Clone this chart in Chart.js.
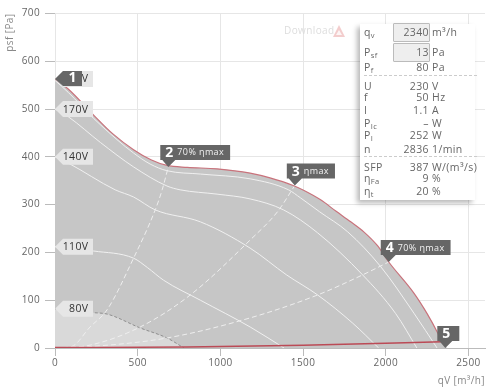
<!DOCTYPE html>
<html><head><meta charset="utf-8">
<script src="https://cdn.jsdelivr.net/npm/chart.js@4"></script>
<style>
html,body{margin:0;padding:0;background:#fff;overflow:hidden}
#wrap{position:relative;width:493px;height:391px;font-family:"Open Sans",sans-serif;font-size:10.5px;color:#666;letter-spacing:.4px}
canvas{position:absolute;left:0;top:0}
#panel{position:absolute;left:360px;top:24px;width:115px;height:176px;background:#fff;box-shadow:-3px 3px 5px rgba(0,0,0,.28)}
.r{position:absolute;left:0;width:115px;height:14px;line-height:14px;white-space:nowrap}
.n{position:absolute;left:4px}
.v{position:absolute;right:46px;text-align:right}
.u{position:absolute;left:72px}
sub{font-size:7.5px;vertical-align:-2px;line-height:0}
.box{position:absolute;left:33px;width:35px;height:17px;background:#eee;border:1px solid #bbb;border-radius:1px}
.sep{position:absolute;left:4px;width:113px;border-top:1px dashed #ccc}
#dl{position:absolute;left:284px;top:23px;color:#ddd;font-size:10px}
</style></head>
<body><div id="wrap"><canvas id="c" width="493" height="391"></canvas>
<div id="dl">Download</div>
<div id="panel"></div></div>
<script>
const yTicks=[0,100,200,300,400,500,600,700];
const xTicks=[0,500,1000,1500,2000,2500];
const outerQ=[0,80,232,350,475,580,677,800,980,1180,1300,1440,1503,1606,1700,1788,1867,1950,2018,2170,2250,2315,2340];
const outerP=[563,542,488,448,415,394,382,378,375,366,356,340,330,310,286,264,243,214,180,115,72,31,13];
const fillQ=[...outerQ,2370];
const fillP=[...outerP,0];
const lowerQ=[0,800,1500,2340];
const lowerP=[1,2,6,13];
const v200Q=[0,80,232,375,475,575,677,880,1180,1412,1485,1600,1770,1970,2170,2310];
const v200P=[560,535,481,436,408,385,371,364,354,331,314,285,243,170,73,0];
const v170Q=[0,80,275,475,677,757,980,1180,1382,1588,1860,2060,2188];
const v170P=[500,484,430,379,339,331,322,312,289,241,153,72,0];
const v140Q=[0,80,364,475,606,879,1180,1400,1588,1800,1957];
const v140P=[400,387,331,316,289,264,209,153,111,52,0];
const v110Q=[0,232,475,560,656,879,1180,1385];
const v110P=[212,203,188,168,142,100,44,0];
const v80Q=[0,232,315,515,677,780];
const v80P=[82,74,71,42,21,0];
const sys1Q=[0,100,212,315,475,606,648,685];
const sys1P=[0,3,44,80,188,289,331,379];
const sys2Q=[0,212,515,818,1180,1345,1450];
const sys2P=[0,6,44,111,226,285,340];
const sys3Q=[0,212,677,1180,1588,1860,2018];
const sys3P=[0,3,21,63,111,153,180];
const voltLabels=["V","170V","140V","110V","80V"];
const voltAt=[563,500,400,212,82];
const markNames=["1","2","3","4","5"];
const markText=["","70% ηmax","ηmax","70% ηmax",""];
const markQ=[0,685,1450,2018,2360];
const markP=[563,379,340,180,0];
const panelNames=[["q","v"],["P","sf"],["P","f"],["U",""],["f",""],["I",""],["P","Ic"],["P","I"],["n",""],["SFP",""],["η","Fa"],["η","t"]];
const panelValues=["2340","13","80","230","50","1.1","–","252","2836","387","9","20"];
const panelUnits=["m³/h","Pa","Pa","V","Hz","A","W","W","1/min","W/(m³/s)","%","%"];

const pts=(q,p)=>q.map((x,i)=>({x,y:p[i]}));
const curve=(q,p,color,w,extra)=>Object.assign({data:pts(q,p),borderColor:color,borderWidth:w,pointRadius:0,showLine:true,fill:false,cubicInterpolationMode:'monotone'},extra||{});

const FONT='"Open Sans",sans-serif';
const annot={id:'annot',afterDatasetsDraw(ch){
  const c=ch.ctx,X=ch.scales.x,Y=ch.scales.y;
  c.save();
  c.textBaseline='middle';
  voltLabels.forEach((t,i)=>{
    const tx=X.getPixelForValue(0),ty=Y.getPixelForValue(voltAt[i]);
    c.fillStyle='#e6e6e6';
    c.beginPath();c.moveTo(tx,ty);c.lineTo(tx+8,ty-8);c.lineTo(tx+38,ty-8);c.lineTo(tx+38,ty+8);c.lineTo(tx+8,ty+8);c.closePath();c.fill();
    c.fillStyle='#333';c.font='10.5px '+FONT;c.textAlign='right';
    c.fillText(t,tx+33.5,ty+0.5);
  });
  markNames.forEach((n,i)=>{
    const tx=X.getPixelForValue(markQ[i]),ty=Y.getPixelForValue(markP[i]);
    c.fillStyle='#666';
    c.beginPath();
    if(i===0){
      c.moveTo(tx,ty);c.lineTo(tx+8,ty-8);c.lineTo(tx+27,ty-8);c.lineTo(tx+27,ty+7);c.lineTo(tx+8,ty+7);
    }else{
      c.font='9px '+FONT;
      const w=markText[i]?c.measureText(markText[i]).width+23:22;
      c.moveTo(tx,ty);c.lineTo(tx+7,ty-7);c.lineTo(tx-8+w,ty-7);c.lineTo(tx-8+w,ty-22);c.lineTo(tx-8,ty-22);c.lineTo(tx-8,ty-7);c.lineTo(tx-6,ty-7);
    }
    c.closePath();c.fill();
    c.fillStyle='#fff';c.textAlign='left';
    c.font='bold 14px '+FONT;
    if(i===0)c.fillText(n,tx+13.5,ty-0.5);
    else{
      c.fillText(n,tx-3,ty-14);
      if(markText[i]){c.font='9px '+FONT;c.fillStyle='#f2f2f2';c.fillText(markText[i],tx+9,ty-14);}
    }
  });
  c.fillStyle='rgba(214,90,90,.3)';
  c.beginPath();c.moveTo(339,25);c.lineTo(345,37);c.lineTo(333,37);c.closePath();c.fill();
  c.fillStyle='rgba(255,255,255,.8)';
  c.beginPath();c.moveTo(339,30);c.lineTo(342,35);c.lineTo(336,35);c.closePath();c.fill();
  c.restore();
}};

new Chart(document.getElementById('c'),{
  type:'scatter',
  data:{datasets:[
    curve(lowerQ,lowerP,'#bb4a56',1.5),
    curve(outerQ,outerP,'#c9737c',1.2),
    curve(v110Q,v110P,'#f0f0f0',1),
    curve(v140Q,v140P,'#f0f0f0',1),
    curve(v170Q,v170P,'#f0f0f0',1),
    curve(v200Q,v200P,'#f0f0f0',1),
    curve(sys3Q,sys3P,'#eeeeee',1,{borderDash:[5,3]}),
    curve(sys2Q,sys2P,'#eeeeee',1,{borderDash:[5,3]}),
    curve(sys1Q,sys1P,'#eeeeee',1,{borderDash:[5,3]}),
    curve(v80Q,v80P,'#8f8f8f',1,{fill:'origin',backgroundColor:'#d9d9d9',borderDash:[3,2]}),
    curve(fillQ,fillP,'rgba(0,0,0,0)',0,{fill:'origin',backgroundColor:'#c6c6c6'})
  ]},
  plugins:[annot],
  options:{
    responsive:false,animation:false,events:[],
    layout:{padding:{left:0,right:8,top:13.5,bottom:0}},
    plugins:{legend:{display:false},tooltip:{enabled:false},title:{display:false},filler:{drawTime:'beforeDatasetDraw'}},
    scales:{
      x:{type:'linear',min:0,max:2600,
        afterFit(s){s.height=43;},
        afterBuildTicks(s){s.ticks=xTicks.map(v=>({value:v}));},
        border:{display:true,color:'#bbb',width:1},
        grid:{color:'#e6e6e6',borderDash:[2,2],tickColor:'#bbb',tickLength:8,tickBorderDash:[]},
        ticks:{color:'#666',font:{family:FONT,size:10},padding:1,maxRotation:0,autoSkip:false,callback:v=>String(v)},
        title:{display:true,text:'qV [m³/h]',align:'end',color:'#888',font:{family:FONT,size:10},padding:{top:0,bottom:4}}
      },
      y:{type:'linear',min:0,max:700,
        afterFit(s){s.width=55;},
        afterBuildTicks(s){s.ticks=yTicks.map(v=>({value:v}));},
        border:{display:false},
        grid:{color:'#e6e6e6',borderDash:[2,2],tickColor:'#bbb',tickLength:10,tickBorderDash:[]},
        ticks:{color:'#666',font:{family:FONT,size:10},padding:5,autoSkip:false,callback:v=>String(v)},
        title:{display:true,text:'psf [Pa]',align:'end',color:'#888',font:{family:FONT,size:10},padding:{top:4,bottom:0}}
      }
    }
  }
});

const rowY=[1,21,36,55,66,79,92,104,118,136,147,160];
const panel=document.getElementById('panel');
let html='<div class="box" style="top:-1px"></div><div class="box" style="top:19px"></div><div class="sep" style="top:51px"></div><div class="sep" style="top:132px"></div>';
panelNames.forEach((n,i)=>{
  html+=`<div class="r" style="top:${rowY[i]}px"><span class="n">${n[0]}${n[1]?'<sub>'+n[1]+'</sub>':''}</span><span class="v">${panelValues[i]}</span><span class="u">${panelUnits[i]}</span></div>`;
});
panel.innerHTML=html;
</script></body></html>
